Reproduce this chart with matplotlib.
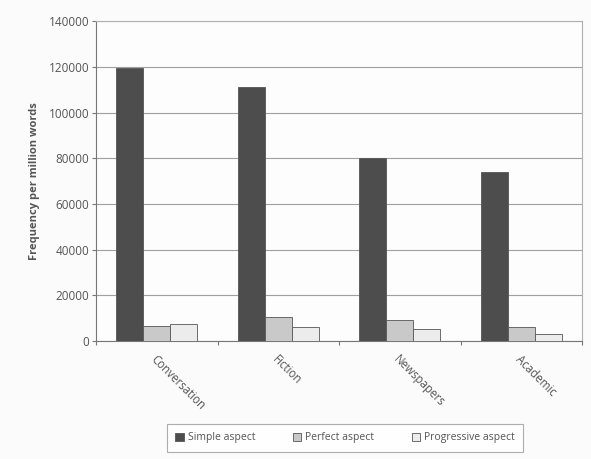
import numpy as np
import matplotlib
matplotlib.use("Agg")
import matplotlib.pyplot as plt

# Verb aspect frequency by register
registers = ["Conversation", "Fiction", "Newspapers", "Academic"]
simple_aspect = [119400, 111000, 80000, 74000]
perfect_aspect = [6600, 10400, 9300, 6300]
progressive_aspect = [7600, 6200, 5300, 3000]

series = [
    ("Simple aspect", simple_aspect, "#4d4d4d"),
    ("Perfect aspect", perfect_aspect, "#c9c9c9"),
    ("Progressive aspect", progressive_aspect, "#ececec"),
]

plt.rcParams["font.family"] = ["Open Sans", "DejaVu Sans"]
text_col = "#555555"

fig = plt.figure(figsize=(5.91, 4.59), dpi=100, facecolor="#fbfbfb")
ax = fig.add_axes([0.1624, 0.257, 0.8226, 0.697])
ax.set_facecolor("#fdfdfd")

x = np.arange(len(registers))
w = 0.223
for i, (name, vals, col) in enumerate(series):
    ax.bar(x + (i - 1) * w, vals, w, color=col, edgecolor="#555555",
           linewidth=0.6, label=name, zorder=3)

ax.set_xlim(-0.5, len(registers) - 0.5)
ax.set_ylim(0, 140000)
ax.set_yticks(np.arange(0, 140001, 20000))
ax.set_yticklabels([str(v) for v in range(0, 140001, 20000)],
                   fontsize=8.5, color=text_col)
ax.yaxis.grid(True, color="#a0a0a0", linewidth=0.8, zorder=0)
ax.tick_params(axis="y", length=3, color="#777777", pad=2)

# tick marks sit between categories, labels at the centres
ax.set_xticks(np.arange(-0.5, len(registers) + 0.5, 1.0))
ax.set_xticklabels([])
ax.tick_params(axis="x", length=3, color="#777777")
for xi, lab in zip(x, registers):
    ax.annotate(lab, xy=(xi, 0), xycoords=("data", "axes fraction"),
                xytext=(-3, -12), textcoords="offset points",
                rotation=-45, rotation_mode="anchor", ha="left", va="center",
                fontsize=8.3, color=text_col)

for side in ["top", "right"]:
    ax.spines[side].set_color("#b0b0b0")
    ax.spines[side].set_linewidth(0.8)
ax.spines["left"].set_color("#777777")
ax.spines["bottom"].set_color("#777777")

ax.set_ylabel("Frequency per million words", fontsize=8, fontweight="bold",
              color=text_col, labelpad=6)

leg = fig.legend(loc="center", bbox_to_anchor=(0.584, 0.046), ncol=3,
                 fontsize=7.5, frameon=True, fancybox=False, edgecolor="#999999",
                 handlelength=0.8, handleheight=0.8, handletextpad=0.4,
                 columnspacing=3.6, borderpad=0.8, borderaxespad=0)
leg.get_frame().set_linewidth(0.8)
for t in leg.get_texts():
    t.set_color(text_col)

fig.savefig("out.png", dpi=100, facecolor=fig.get_facecolor())
